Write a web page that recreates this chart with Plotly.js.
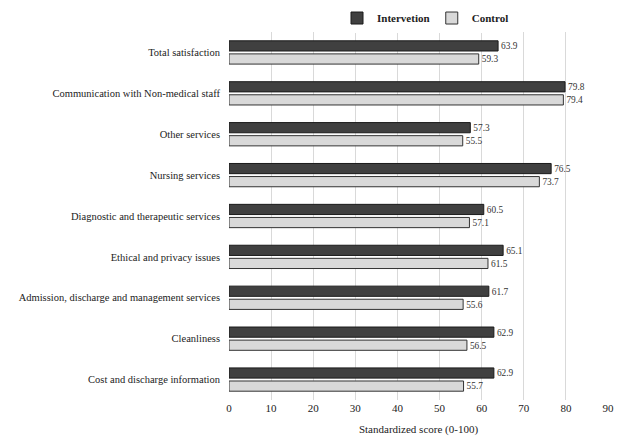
<!DOCTYPE html>
<html><head><meta charset="utf-8">
<script src="https://cdn.plot.ly/plotly-3.0.1.min.js"></script>
<style>html,body{margin:0;padding:0;background:#fff}#chart{width:620px;height:437px}</style>
</head><body><div id="chart"></div>
<script>
var categories = ["Total satisfaction","Communication with Non-medical staff","Other services","Nursing services","Diagnostic and therapeutic services","Ethical and privacy issues","Admission, discharge and management services","Cleanliness","Cost and discharge information"];
var intervention = [63.9,79.8,57.3,76.5,60.5,65.1,61.7,62.9,62.9];
var control = [59.3,79.4,55.5,73.7,57.1,61.5,55.6,56.5,55.7];
var xTicks = [0,10,20,30,40,50,60,70,80,90];
var F = "Liberation Serif";
function fmt(a){return a.map(function(v){return v.toFixed(1);});}
var t1 = {type:'bar',orientation:'h',name:'Intervetion',legend:'legend',y:categories,x:intervention,text:fmt(intervention),textposition:'outside',cliponaxis:false,
  textfont:{family:F,size:11,color:'#333'},marker:{color:'#404040',line:{color:'#1a1a1a',width:1}},hoverinfo:'none'};
var t2 = {type:'bar',orientation:'h',name:'Control',legend:'legend2',y:categories,x:control,text:fmt(control),textposition:'outside',cliponaxis:false,
  textfont:{family:F,size:11,color:'#333'},marker:{color:'#d9d9d9',line:{color:'#333',width:1}},hoverinfo:'none'};
var legFont = {family:F,size:11,color:'#222',weight:'bold'};
var layout = {
  width:620,height:437,margin:{l:229,r:12,t:32,b:37,autoexpand:false},
  paper_bgcolor:'#fff',plot_bgcolor:'#fff',
  barmode:'group',bargap:0.36,bargroupgap:0.22,
  font:{family:F,size:11,color:'#222'},
  showlegend:true,
  legend:{orientation:'h',x:0.285,xanchor:'left',y:1.038,yanchor:'middle',font:legFont},
  legend2:{orientation:'h',x:0.535,xanchor:'left',y:1.038,yanchor:'middle',font:legFont},
  xaxis:{range:[0,90],tickvals:xTicks,showgrid:true,gridcolor:'#d9d9d9',gridwidth:1,zeroline:false,showline:false,ticks:'',
    tickfont:{family:F,size:11,color:'#222'},title:{text:'Standardized score (0-100)',font:{family:F,size:11,color:'#222'},standoff:12}},
  yaxis:{autorange:'reversed',showgrid:false,zeroline:false,showline:false,ticks:'',ticklabelstandoff:8,
    tickfont:{family:F,size:10.5,color:'#222'}}
};
Plotly.newPlot('chart',[t1,t2],layout,{displayModeBar:false,staticPlot:true});
</script></body></html>
